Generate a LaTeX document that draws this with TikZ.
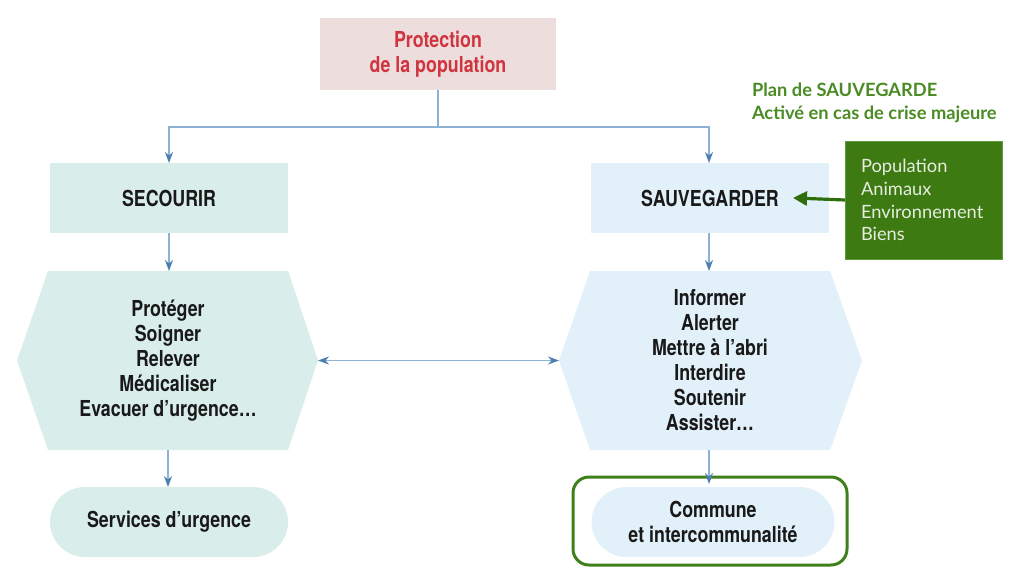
\documentclass[tikz,border=0pt]{standalone}
\usepackage{fontspec}
\setmainfont{Lato}
\newfontfamily\condf[FakeStretch=0.81]{TeX Gyre Heros}
\newfontfamily\latof{Lato}
\usetikzlibrary{arrows.meta,backgrounds,calc}
\definecolor{pinkfill}{HTML}{EEDDDD}
\definecolor{redtext}{HTML}{D0343F}
\definecolor{tealfill}{HTML}{D9EEEA}
\definecolor{bluefill}{HTML}{E1F0F9}
\definecolor{arrline}{HTML}{8DB2D4}
\definecolor{arrhead}{HTML}{4A7FB0}
\definecolor{gbox}{HTML}{3E7A12}
\definecolor{gboxborder}{HTML}{5E9A3E}
\definecolor{gtext}{HTML}{E6EDE0}
\definecolor{gtitle}{HTML}{4A8B23}
\definecolor{gframe}{HTML}{3F7F1C}
\definecolor{garrow}{HTML}{2F6E0C}
\begin{document}
\begin{tikzpicture}[x=1pt,y=-1pt,
  every node/.style={inner sep=0pt, outer sep=0pt},
  maintext/.style={font=\condf\bfseries\fontsize{22}{25}\selectfont, text=black!90, align=center},
  boxbase/.style={maintext, minimum width=238pt, minimum height=70pt},
  bluearrow/.style={line width=1.5pt, draw=arrline, -{Stealth[length=11pt,width=8pt,color=arrhead]}},
  bluedouble/.style={line width=1.5pt, draw=arrline, {Stealth[length=11pt,width=8pt,color=arrhead]}-{Stealth[length=11pt,width=8pt,color=arrhead]}},
  blueline/.style={line width=1.5pt, draw=arrline},
  greenarrow/.style={line width=3.2pt, draw=garrow, -{Triangle[length=14pt,width=14pt,color=garrow]}, shorten >=-2pt},
  pill/.style={boxbase, rounded corners=35pt},
]
\useasboundingbox (0,0) rectangle (1024,579);

% top box
\node[maintext, fill=pinkfill, text=redtext, minimum width=236pt, minimum height=72pt] (top) at (438,54) {Protection\\de la population};

% level 1
\node[boxbase, fill=tealfill] (secourir) at (169,198) {SECOURIR};
\node[boxbase, fill=bluefill] (sauv) at (710,198) {SAUVEGARDER};

% hexagons (central rectangles)
\node[maintext, minimum width=240pt, minimum height=179pt] (hexL) at (168,360.5) {Protéger\\Soigner\\Relever\\Médicaliser\\Evacuer d’urgence…};
\node[maintext, minimum width=240pt, minimum height=179pt] (hexR) at (710,360.5) {Informer\\Alerter\\Mettre à l’abri\\Interdire\\Soutenir\\Assister…};
\coordinate (hexLleft) at ($(hexL.west)+(-31,0)$);
\coordinate (hexLright) at ($(hexL.east)+(30,0)$);
\coordinate (hexRleft) at ($(hexR.west)+(-31,0)$);
\coordinate (hexRright) at ($(hexR.east)+(32,0)$);
\begin{scope}[on background layer]
\fill[tealfill] (hexL.north west) -- (hexL.north east) -- (hexLright) -- (hexL.south east) -- (hexL.south west) -- (hexLleft) -- cycle;
\fill[bluefill] (hexR.north west) -- (hexR.north east) -- (hexRright) -- (hexR.south east) -- (hexR.south west) -- (hexRleft) -- cycle;
\end{scope}

% bottom
\node[pill, fill=tealfill] (serv) at (169,522) {Services d’urgence};
\node[pill, fill=bluefill, minimum width=243pt] (comm) at (713,522) {Commune\\et intercommunalité};
\node[draw=gframe, line width=3pt, rounded corners=16pt, minimum width=274pt, minimum height=88pt] (frame) at (710,521) {};

% green info box
\node[fill=gbox, draw=gboxborder, line width=0.8pt, text=gtext, font=\latof\fontsize{18.3}{22.7}\selectfont, align=left, text width=125pt, inner xsep=16pt, minimum height=118pt] (gbox) at (923.5,200) {Population\\Animaux\\Environnement\\Biens};
\node[anchor=north west, text=gtitle, font=\latof\bfseries\fontsize{18.3}{23}\selectfont, align=left] (gtitle) at (752,83) {Plan de SAUVEGARDE\\Activé en cas de crise majeure};

% connectors
\coordinate (split) at (438,127);
\draw[blueline] (top.south) -- (split);
\draw[bluearrow] (split) -| (secourir.north);
\draw[bluearrow] (split) -| ([xshift=-1pt]sauv.north);
\draw[bluearrow] (secourir.south) -- (secourir.south |- hexL.north);
\draw[bluearrow] ([xshift=-1pt]sauv.south) -- ([xshift=-1pt]sauv.south |- hexR.north);
\draw[bluearrow] (hexL.south) -- (hexL.south |- serv.north);
\draw[bluearrow] ([xshift=-1pt]hexR.south) -- ([xshift=-1pt,yshift=3pt]hexR.south |- comm.north);
\draw[bluedouble] (hexLright) -- (hexRleft);
\draw[greenarrow] (gbox.west) -- ([xshift=-34pt]sauv.east);
\end{tikzpicture}
\end{document}
